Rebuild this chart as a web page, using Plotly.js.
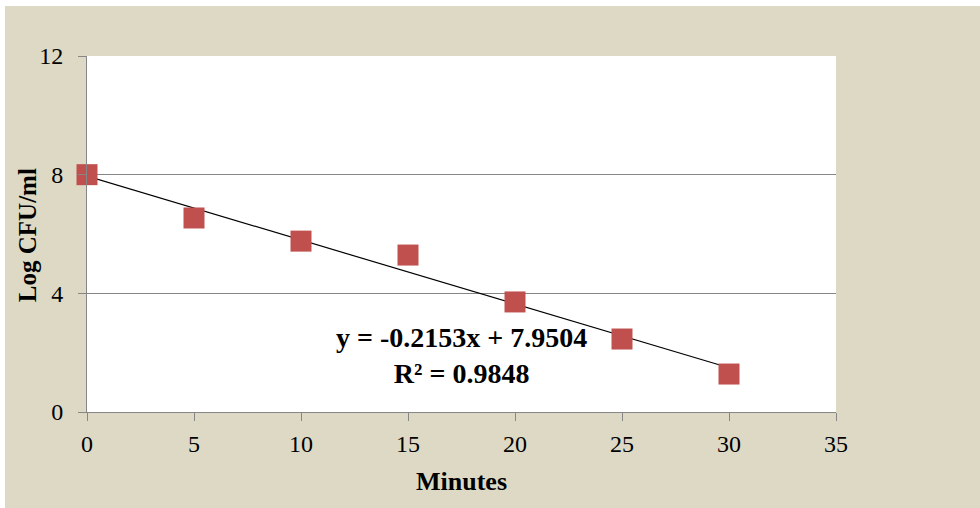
<!DOCTYPE html>
<html>
<head>
<meta charset="utf-8">
<script src="https://cdn.plot.ly/plotly-3.0.1.min.js"></script>
<style>
html,body{margin:0;padding:0;background:#ffffff;width:980px;height:508px;overflow:hidden;}
#chart{position:absolute;left:5px;top:6px;width:975px;height:502px;}
</style>
</head>
<body>
<div id="chart"></div>
<script>
const minutes = [0, 5, 10, 15, 20, 25, 30];
const logCFU = [8.0, 6.54, 5.76, 5.29, 3.71, 2.46, 1.28];
const trendX = [0, 30];
const trendY = [7.9504, 1.4914];
const xTicks = [0, 5, 10, 15, 20, 25, 30, 35];
const yTicks = [0, 4, 8, 12];
const equationText = "y = -0.2153x + 7.9504<br>R² = 0.9848";
const xTitle = "Minutes";
const yTitle = "Log CFU/ml";

const serif = "Liberation Serif, Times New Roman, serif";

const traces = [
  {
    x: trendX, y: trendY, mode: "lines", type: "scatter",
    line: {color: "#000000", width: 1.2}, hoverinfo: "skip", showlegend: false
  },
  {
    x: minutes, y: logCFU, mode: "markers", type: "scatter",
    marker: {symbol: "square", size: 21, color: "#C0504D", line: {width: 0}},
    showlegend: false, cliponaxis: false
  }
];

const layout = {
  width: 975, height: 502,
  paper_bgcolor: "#DDD9C4",
  plot_bgcolor: "#ffffff",
  margin: {l: 82, r: 144, t: 50, b: 96},
  font: {family: serif, color: "#000000", size: 24},
  showlegend: false,
  xaxis: {
    range: [0, 35], tickvals: xTicks, ticktext: xTicks.map(String),
    showgrid: false, zeroline: false,
    showline: true, linecolor: "#868686", linewidth: 1,
    ticks: "outside", ticklen: 8, tickcolor: "#868686",
    ticklabelstandoff: 2,
    tickfont: {family: serif, size: 24},
    title: {text: "<b>" + xTitle + "</b>", font: {family: serif, size: 26}, standoff: 16}
  },
  yaxis: {
    range: [0, 12], tickvals: yTicks, ticktext: yTicks.map(String),
    showgrid: true, gridcolor: "#868686", gridwidth: 1, zeroline: false,
    showline: true, linecolor: "#868686", linewidth: 1,
    ticks: "outside", ticklen: 8, tickcolor: "#868686",
    ticklabelstandoff: 10,
    tickfont: {family: serif, size: 24}
  },
  annotations: [
    {
      x: 17.5, y: 1.9, xref: "x", yref: "y",
      text: "<b>" + equationText + "</b>",
      showarrow: false, align: "center",
      font: {family: serif, size: 28, color: "#000000"}
    },
    {
      x: -0.080, y: 0.497, xref: "paper", yref: "paper",
      xanchor: "center", yanchor: "middle",
      text: "<b>" + yTitle + "</b>", textangle: -90,
      showarrow: false,
      font: {family: serif, size: 25, color: "#000000"}
    }
  ]
};

Plotly.newPlot("chart", traces, layout, {displayModeBar: false, staticPlot: true});
</script>
</body>
</html>
